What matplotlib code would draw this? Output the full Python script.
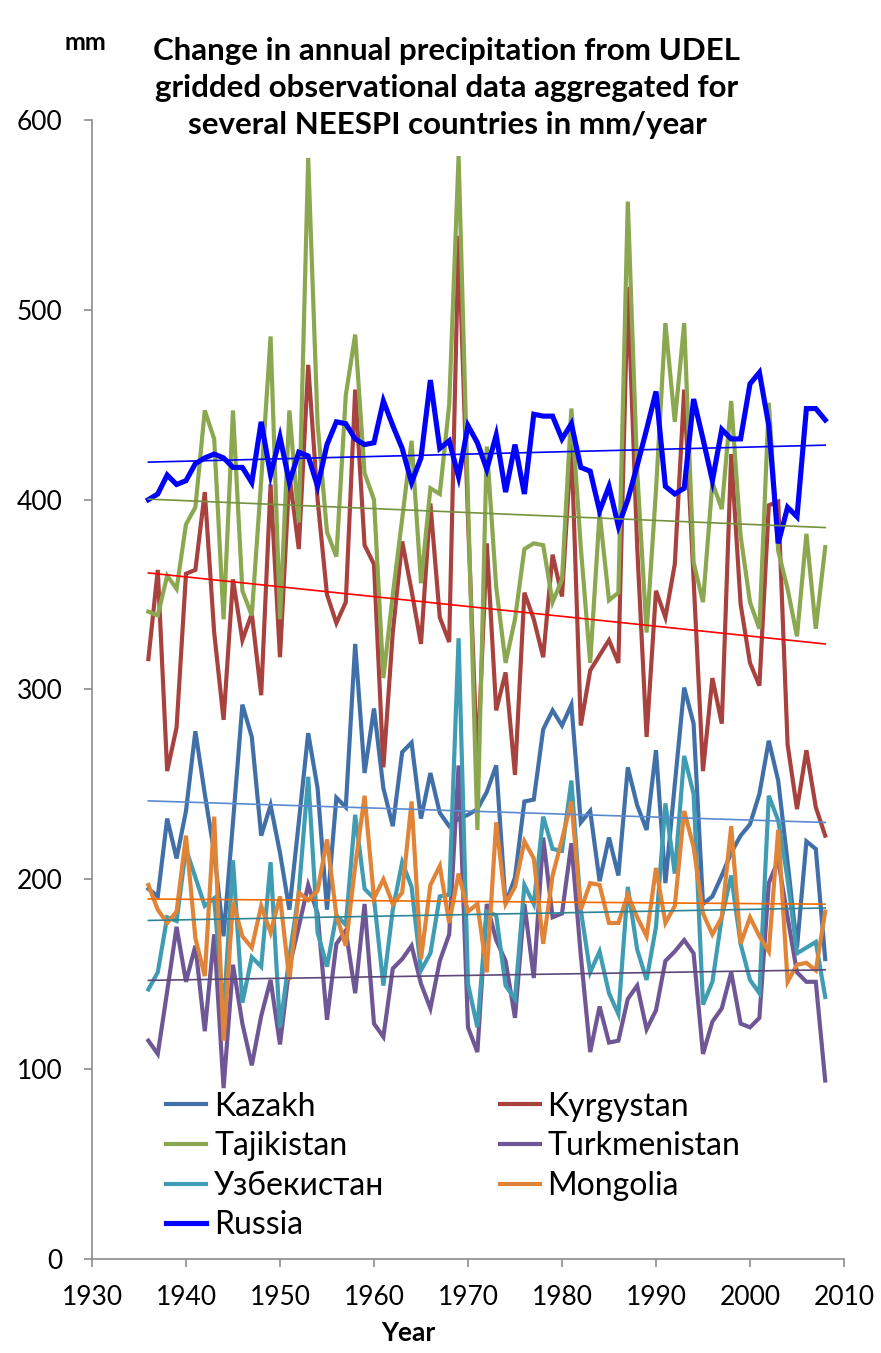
import numpy as np
import matplotlib
matplotlib.use("Agg")
import matplotlib.pyplot as plt

# =========================
# Data (annual precipitation, mm/year)
# =========================
YEARS = np.arange(1936, 2009)

KAZAKH = [195, 191, 232, 211, 236, 278, 245, 214, 170, 230,
          292, 275, 223, 239, 214, 184, 230, 277, 248, 184,
          243, 238, 324, 256, 290, 248, 228, 267, 272, 232,
          256, 235, 228, 232, 234, 237, 246, 260, 187, 201,
          241, 242, 279, 289, 281, 292, 230, 236, 199, 222,
          202, 259, 239, 226, 268, 198, 250, 301, 282, 187,
          191, 202, 214, 223, 229, 245, 273, 252, 209, 164,
          220, 216, 158]

KYRGYZ = [316, 363, 257, 280, 361, 363, 404, 330, 284, 358,
          326, 340, 297, 408, 317, 413, 374, 471, 400, 350,
          335, 346, 458, 376, 366, 259, 330, 378, 352, 324,
          398, 338, 325, 539, 390, 259, 377, 289, 309, 255,
          351, 337, 317, 371, 349, 430, 281, 310, 318, 326,
          314, 512, 375, 275, 352, 338, 366, 458, 358, 257,
          306, 282, 424, 345, 314, 302, 397, 399, 271, 237,
          268, 238, 223]

TAJIK = [341, 339, 360, 353, 387, 396, 447, 432, 337, 447,
         352, 339, 410, 486, 337, 447, 388, 580, 440, 383,
         370, 455, 487, 414, 400, 306, 350, 390, 431, 356,
         406, 403, 450, 581, 400, 226, 428, 354, 314, 337,
         374, 377, 376, 346, 358, 448, 375, 314, 393, 347,
         351, 557, 415, 330, 405, 493, 441, 493, 367, 346,
         409, 395, 452, 381, 346, 332, 451, 373, 353, 328,
         382, 332, 375]

TURKMEN = [115, 108, 141, 175, 146, 165, 120, 171, 90, 155,
           124, 102, 128, 147, 113, 154, 175, 197, 182, 126,
           166, 173, 140, 187, 124, 117, 153, 158, 165, 145,
           132, 157, 171, 260, 122, 109, 187, 168, 157, 127,
           187, 148, 222, 180, 182, 219, 160, 109, 133, 114,
           115, 137, 144, 121, 131, 157, 162, 168, 161, 108,
           125, 132, 151, 124, 122, 127, 198, 210, 180, 151,
           146, 146, 94]

UZBEK = [142, 151, 180, 178, 216, 201, 186, 190, 129, 210,
         135, 159, 154, 209, 122, 159, 193, 254, 172, 154,
         181, 176, 234, 195, 190, 144, 184, 209, 196, 152,
         161, 191, 192, 327, 145, 122, 183, 181, 144, 137,
         197, 187, 233, 216, 215, 252, 184, 151, 162, 140,
         129, 196, 163, 147, 175, 240, 203, 265, 245, 134,
         146, 180, 202, 166, 147, 140, 244, 231, 200, 161,
         164, 167, 138]

MONGOLIA = [197, 184, 177, 183, 223, 169, 149, 233, 115, 188,
            170, 164, 186, 172, 191, 147, 193, 189, 194, 221,
            181, 165, 207, 244, 190, 200, 187, 193, 241, 158,
            197, 207, 177, 203, 183, 187, 151, 230, 187, 196,
            220, 211, 166, 202, 221, 241, 184, 198, 197, 177,
            177, 192, 180, 170, 206, 177, 186, 236, 217, 182,
            171, 180, 228, 166, 180, 170, 162, 226, 146, 155,
            156, 152, 183]

RUSSIA = [400, 403, 413, 408, 410, 419, 422, 424, 422, 417,
          417, 409, 441, 413, 433, 409, 425, 423, 407, 429,
          441, 440, 432, 429, 430, 452, 439, 427, 409, 422,
          463, 427, 431, 412, 439, 430, 416, 434, 404, 429,
          403, 445, 444, 444, 432, 440, 417, 415, 394, 407,
          386, 400, 418, 437, 457, 407, 403, 406, 453, 432,
          410, 437, 432, 432, 461, 467, 439, 377, 396, 391,
          448, 448, 442]

LEGEND_ORDER = ["Kazakh", "Tajikistan", "Узбекистан", "Russia",
                "Kyrgystan", "Turkmenistan", "Mongolia"]

# Excel series order: later series are drawn on top
SERIES = [
    ("Kazakh", KAZAKH, "#4170a8", "#5a8ad0", 3.0),
    ("Kyrgystan", KYRGYZ, "#a8423f", "#ff0000", 3.0),
    ("Tajikistan", TAJIK, "#8ba74f", "#76923c", 3.0),
    ("Turkmenistan", TURKMEN, "#6f5796", "#5d4878", 3.0),
    ("Узбекистан", UZBEK, "#3f9cb3", "#2f8597", 3.0),
    ("Mongolia", MONGOLIA, "#e08438", "#f06a00", 3.0),
    ("Russia", RUSSIA, "#0000ff", "#0000ff", 3.7),
]

plt.rcParams["font.family"] = ["Lato", "Open Sans", "DejaVu Sans"]

fig = plt.figure(figsize=(8.81, 13.53), dpi=100)
ax = fig.add_axes([0.1044, 0.0695, 0.8536, 0.8418])

handles = {}
for name, values, color, trend_color, lw in SERIES:
    line, = ax.plot(YEARS, values, color=color, lw=lw,
                    solid_joinstyle="miter", zorder=2)
    handles[name] = line

# linear trend lines drawn over the data
for name, values, color, trend_color, lw in SERIES:
    slope, intercept = np.polyfit(YEARS, values, 1)
    ends = np.array([YEARS[0], YEARS[-1]])
    ax.plot(ends, slope * ends + intercept, color=trend_color, lw=1.2, zorder=3)

ax.set_xlim(1930, 2010)
ax.set_ylim(0, 600)
ax.set_xticks(np.arange(1930, 2011, 10))
ax.set_yticks(np.arange(0, 601, 100))

for side in ["top", "right"]:
    ax.spines[side].set_visible(False)
for side in ["left", "bottom"]:
    ax.spines[side].set_color("#8c8c8c")
    ax.spines[side].set_linewidth(1.2)

ax.tick_params(direction="out", length=6, width=1.2, color="#8c8c8c",
               labelsize=19, labelcolor="black")
ax.tick_params(axis="y", pad=15)
ax.tick_params(axis="x", pad=13)

leg = ax.legend([handles[n] for n in LEGEND_ORDER], LEGEND_ORDER,
                ncol=2, frameon=False, fontsize=23,
                loc="upper left", bbox_to_anchor=(0.099, 0.147),
                borderaxespad=0, borderpad=0,
                handlelength=1.25, handletextpad=0.25,
                columnspacing=3.6, labelspacing=0.3)

fig.text(447 / 881, 1 - 88 / 1353,
         "Change in annual precipitation from UDEL\n"
         "gridded observational data aggregated for\n"
         "several NEESPI countries in mm/year",
         ha="center", va="center", fontsize=22.5, fontweight="bold",
         linespacing=1.4)
fig.text(85 / 881, 1 - 42 / 1353, "mm", ha="center", va="center",
         fontsize=18, fontweight="bold")
fig.text(408 / 881, 1 - 1333 / 1353, "Year", ha="center", va="center",
         fontsize=19, fontweight="bold")

fig.savefig("out.png", dpi=100)
